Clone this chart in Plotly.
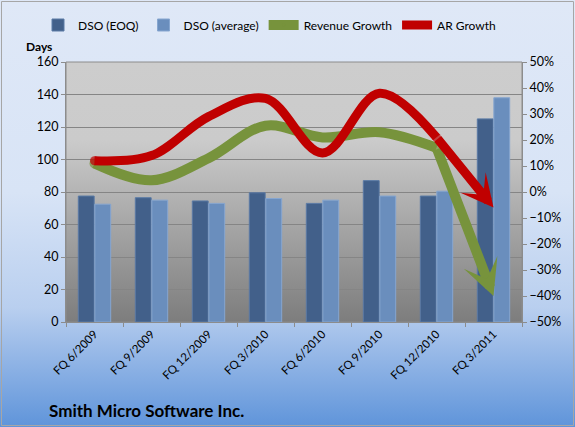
import base64
import plotly.graph_objects as go

# ---- data ----
categories = ["FQ 6/2009", "FQ 9/2009", "FQ 12/2009", "FQ 3/2010",
              "FQ 6/2010", "FQ 9/2010", "FQ 12/2010", "FQ 3/2011"]
dso_eoq = [77.5, 76.5, 74.5, 79.5, 73, 87, 77.5, 125]
dso_avg = [72.5, 75, 73, 76, 75, 77.5, 80.5, 138]
revenue_growth = [11, 4.5, 13, 25.5, 21, 23, 17, -40]   # percent
ar_growth = [12, 14, 29, 36, 15, 38, 21, -6]             # percent

W, H = 575, 427
L, R, T, B = 66, 53, 62, 105
PW, PH = W - L - R, H - T - B

GREEN = "#77933c"
RED = "#c00000"


def svg_gradient(stops, w=100, h=100):
    st = "".join(f'<stop offset="{o}" stop-color="{c}"/>' for o, c in stops)
    svg = (f'<svg xmlns="http://www.w3.org/2000/svg" width="{w}" height="{h}" '
           f'preserveAspectRatio="none">'
           f'<defs><linearGradient id="g" x1="0" y1="0" x2="0" y2="1">{st}</linearGradient></defs>'
           f'<rect x="0" y="0" width="{w}" height="{h}" fill="url(#g)"/></svg>')
    return "data:image/svg+xml;base64," + base64.b64encode(svg.encode()).decode()


paper_img = svg_gradient([(0, "#dfe8f7"), (0.45, "#d8e4f6"), (0.72, "#b9cfef"), (1, "#5f94da")])
plot_img = svg_gradient([(0, "#cdcdcd"), (0.3, "#cbcbcb"), (0.6, "#a9a9a9"), (1, "#7d7d7d")])

fig = go.Figure()

fig.add_bar(x=categories, y=dso_eoq, name="DSO (EOQ)",
            marker=dict(color="#42608a", line=dict(color="#5a7aa5", width=1)))
fig.add_bar(x=categories, y=dso_avg, name="DSO (average)",
            marker=dict(color="#6a8ebd", line=dict(color="#86a6d0", width=1)))

n = len(categories) - 1
fig.add_scatter(x=categories[:n], y=revenue_growth[:n], yaxis="y2", name="Revenue Growth",
                mode="lines+markers", line=dict(color=GREEN, width=10, shape="spline", smoothing=1),
                marker=dict(size=[10] + [0] * (n - 2) + [10], color=GREEN, line=dict(width=0)))
fig.add_scatter(x=categories[:n], y=ar_growth[:n], yaxis="y2", name="AR Growth",
                mode="lines+markers", line=dict(color=RED, width=9, shape="spline", smoothing=1),
                marker=dict(size=[9] + [0] * (n - 2) + [9], color=RED, line=dict(width=0)))

annotations = []
for series, col, wd, sz in ((revenue_growth, GREEN, 10, 0.6), (ar_growth, RED, 9, 0.6)):
    annotations.append(dict(x=n, y=series[n], ax=n - 1, ay=series[n - 1],
                            xref="x", yref="y2", axref="x", ayref="y2",
                            text="", showarrow=True, arrowhead=3, arrowsize=sz,
                            arrowwidth=wd, arrowcolor=col, standoff=0, startstandoff=0))

annotations.append(dict(text="<b>Days</b>", x=(39 - L) / PW, y=1 + (T - 46) / PH,
                        xref="paper", yref="paper", xanchor="center", yanchor="middle",
                        showarrow=False, font=dict(size=12, color="black", family="Lato")))
annotations.append(dict(text="<b>Smith Micro Software Inc.</b>", x=(47 - L) / PW,
                        y=-(410 - (H - B)) / PH, xref="paper", yref="paper",
                        xanchor="left", yanchor="middle", showarrow=False,
                        font=dict(size=17, color="black", family="Lato")))

images = [
    dict(source=paper_img, xref="paper", yref="paper", x=-L / PW, y=1 + T / PH,
         sizex=W / PW, sizey=H / PH, sizing="stretch", xanchor="left", yanchor="top",
         layer="below"),
    dict(source=plot_img, xref="paper", yref="paper", x=0, y=1, sizex=1, sizey=1,
         sizing="stretch", xanchor="left", yanchor="top", layer="below"),
]

shapes = [
    dict(type="rect", xref="paper", yref="paper", x0=0, x1=1, y0=0, y1=1,
         line=dict(color="#8c8c8c", width=1), layer="below"),
    dict(type="rect", xref="paper", yref="paper",
         x0=(-L + 1.5) / PW, x1=1 + (R - 1.5) / PW, y0=-(B - 1.5) / PH, y1=1 + (T - 1.5) / PH,
         line=dict(color="#a6a6a6", width=1)),
]

fig.update_layout(
    width=W, height=H,
    margin=dict(l=L, r=R, t=T, b=B, autoexpand=False),
    paper_bgcolor="rgba(0,0,0,0)", plot_bgcolor="rgba(0,0,0,0)",
    font=dict(family="Lato", size=12, color="black"),
    barmode="group", bargap=0.42, bargroupgap=0.04,
    showlegend=True,
    legend=dict(orientation="h", x=(38 - L) / PW, xanchor="left", y=1 + (T - 25) / PH,
                yanchor="middle", bgcolor="rgba(0,0,0,0)", font=dict(size=12),
                traceorder="normal", itemwidth=30),
    xaxis=dict(type="category", tickson="boundaries", ticks="outside", ticklen=4,
               tickcolor="#8c8c8c", showline=True, linecolor="#8c8c8c", showgrid=False,
               tickangle=-45, tickfont=dict(size=11.5), range=[-0.5, 7.5]),
    yaxis=dict(range=[0, 160], dtick=20, ticks="outside", ticklen=4, tickcolor="#8c8c8c",
               showline=True, linecolor="#8c8c8c", gridcolor="#858585", gridwidth=1,
               zeroline=False, tickfont=dict(size=12.5)),
    yaxis2=dict(range=[-50, 50], dtick=10, ticksuffix="%", overlaying="y", side="right",
                ticks="outside", ticklen=4, tickcolor="#8c8c8c", showline=True,
                linecolor="#8c8c8c", showgrid=False, zeroline=False, tickfont=dict(size=12.5)),
    annotations=annotations, images=images, shapes=shapes,
)

fig.write_html("out.html")
